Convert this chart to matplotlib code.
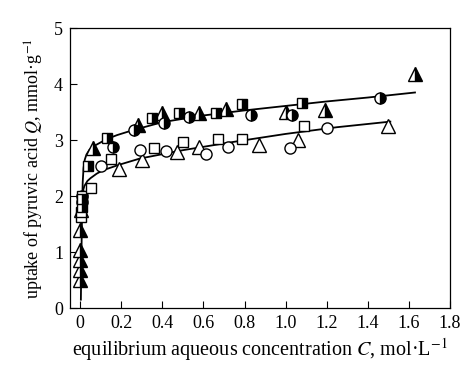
import numpy as np
import matplotlib
matplotlib.use("Agg")
import matplotlib.pyplot as plt

plt.rcParams["font.family"] = "Liberation Serif"
plt.rcParams["mathtext.fontset"] = "stix"

# half-filled markers (upper isotherm)
tri_h_x = [0.0, 0.0, 0.0, 0.0, 0.0, 0.06, 0.28, 0.40, 0.58, 0.71, 1.0, 1.19, 1.63]
tri_h_y = [0.50, 0.68, 0.86, 1.04, 1.39, 2.86, 3.27, 3.48, 3.48, 3.55, 3.50, 3.54, 4.18]
cir_h_x = [0.01, 0.16, 0.26, 0.41, 0.53, 0.83, 1.03, 1.46]
cir_h_y = [1.90, 2.88, 3.18, 3.30, 3.41, 3.45, 3.45, 3.75]
sq_h_x = [0.01, 0.01, 0.04, 0.13, 0.35, 0.48, 0.66, 0.79, 1.08]
sq_h_y = [1.80, 1.95, 2.54, 3.03, 3.39, 3.48, 3.48, 3.64, 3.66]

# open markers (lower isotherm)
tri_o_x = [0.005, 0.19, 0.30, 0.47, 0.58, 0.87, 1.06, 1.50]
tri_o_y = [1.75, 2.48, 2.64, 2.79, 2.88, 2.91, 3.01, 3.25]
cir_o_x = [0.01, 0.10, 0.29, 0.42, 0.61, 0.72, 1.02, 1.20]
cir_o_y = [2.00, 2.54, 2.82, 2.80, 2.75, 2.88, 2.86, 3.21]
sq_o_x = [0.005, 0.005, 0.01, 0.05, 0.15, 0.36, 0.50, 0.67, 0.79, 1.09]
sq_o_y = [1.63, 1.72, 2.00, 2.14, 2.66, 2.86, 2.96, 3.02, 3.02, 3.25]

# fitted curves
fit_up_x = [0.003, 0.006, 0.009, 0.012, 0.016, 0.022, 0.03, 0.045, 0.07, 0.1, 0.13, 0.18,
            0.25, 0.4, 0.6, 0.8, 1.0, 1.2, 1.4, 1.63]
fit_up_y = [0.15, 1.0, 1.8, 2.25, 2.5, 2.65, 2.74, 2.83, 2.9, 2.96, 3.02, 3.09,
            3.17, 3.32, 3.44, 3.53, 3.61, 3.69, 3.76, 3.85]
fit_lo_x = [0.004, 0.007, 0.01, 0.02, 0.035, 0.05, 0.08, 0.11, 0.15, 0.19, 0.29, 0.5,
            0.75, 1.0, 1.25, 1.51]
fit_lo_y = [1.40, 1.85, 2.05, 2.18, 2.27, 2.32, 2.40, 2.46, 2.51, 2.56, 2.67, 2.82,
            2.97, 3.11, 3.23, 3.33]

xticks = [0, 0.2, 0.4, 0.6, 0.8, 1.0, 1.2, 1.4, 1.6, 1.8]
xtick_labels = ["0", "0.2", "0.4", "0.6", "0.8", "1.0", "1.2", "1.4", "1.6", "1.8"]
yticks = [0, 1, 2, 3, 4, 5]

fig = plt.figure(figsize=(4.65, 3.65), dpi=100)
ax = fig.add_axes([0.1505, 0.156, 0.817, 0.767])

ax.plot(fit_up_x, fit_up_y, color="black", lw=1.3, zorder=1)
ax.plot(fit_lo_x, fit_lo_y, color="black", lw=1.3, zorder=1)

half = dict(linestyle="none", fillstyle="right", markerfacecolor="black",
            markerfacecoloralt="white", markeredgecolor="black", markeredgewidth=1.0, zorder=3)
opn = dict(linestyle="none", markerfacecolor="white", markeredgecolor="black",
           markeredgewidth=1.0, zorder=3)

ax.plot(tri_o_x, tri_o_y, marker="^", ms=10, **opn)
ax.plot(cir_o_x, cir_o_y, marker="o", ms=8, **opn)
ax.plot(sq_o_x, sq_o_y, marker="s", ms=7.5, **opn)
ax.plot(tri_h_x, tri_h_y, marker="^", ms=10, **half)
ax.plot(cir_h_x, cir_h_y, marker="o", ms=8, **half)
ax.plot(sq_h_x, sq_h_y, marker="s", ms=7.5, **half)

ax.set_xlim(-0.05, 1.8)
ax.set_ylim(0, 5)
ax.set_xticks(xticks)
ax.set_xticklabels(xtick_labels)
ax.set_yticks(yticks)
ax.tick_params(direction="in", length=5, width=0.8, labelsize=13, pad=5)
for s in ax.spines.values():
    s.set_linewidth(0.9)

ax.set_xlabel(r"equilibrium aqueous concentration $C$, mol·L$^{-1}$", fontsize=14.5, labelpad=3)
ax.set_ylabel(r"uptake of pyruvic acid $Q$, mmol·g$^{-1}$", fontsize=13, labelpad=6)

fig.savefig("out.png", dpi=100)
